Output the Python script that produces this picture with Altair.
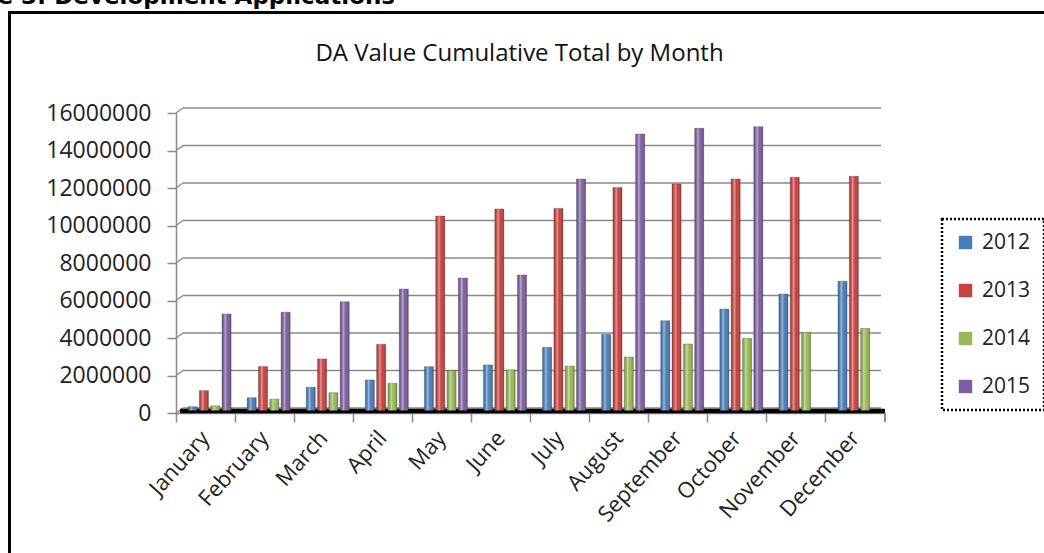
import altair as alt
import pandas as pd

months = ["January", "February", "March", "April", "May", "June", "July",
          "August", "September", "October", "November", "December"]
years = ["2012", "2013", "2014", "2015"]
v2012 = [200000, 680000, 1240000, 1630000, 2340000, 2430000, 3370000, 4060000, 4790000, 5410000, 6210000, 6900000]
v2013 = [1060000, 2340000, 2750000, 3530000, 10370000, 10750000, 10780000, 11900000, 12080000, 12350000, 12440000, 12490000]
v2014 = [250000, 600000, 950000, 1450000, 2120000, 2160000, 2370000, 2850000, 3550000, 3850000, 4170000, 4380000]
v2015 = [5150000, 5240000, 5800000, 6480000, 7070000, 7230000, 12350000, 14750000, 15050000, 15140000, 0, 0]
colors = ["#4A7EBB", "#C8423F", "#98B954", "#7D5FA0"]
y_ticks = [0, 2000000, 4000000, 6000000, 8000000, 10000000, 12000000, 14000000, 16000000]
chart_title = "DA Value Cumulative Total by Month"
caption = "Figure 3: Development Applications"

rows = []
for yr, vals in zip(years, [v2012, v2013, v2014, v2015]):
    for m, v in zip(months, vals):
        rows.append({"month": m, "year": yr, "value": v})
df = pd.DataFrame(rows)
grid_df = pd.DataFrame({"value": y_ticks})

W, H = 709, 300
FONT = "Open Sans"
GRAY = "#8a8a8a"

yscale = alt.Scale(domain=[0, 16000000], nice=False, zero=True)

x_enc = alt.X(
    "month:N", sort=months,
    scale=alt.Scale(paddingInner=0, paddingOuter=0),
    axis=alt.Axis(title=None, bandPosition=0, labelAngle=-48, labelAlign="right",
                  labelBaseline="middle", labelOffset=0, labelPadding=12,
                  labelFont=FONT, labelFontSize=22, labelColor="#222",
                  tickSize=9, tickColor=GRAY, tickWidth=1.5,
                  domainColor=GRAY, domainWidth=1.5, grid=False),
)
y_axis = alt.Axis(values=y_ticks, format="d", title=None, grid=False,
                  labelFont=FONT, labelFontSize=23, labelColor="#222", labelPadding=16,
                  tickSize=9, tickColor=GRAY, tickWidth=1.5,
                  domainColor=GRAY, domainWidth=1.5)
y_enc = alt.Y("value:Q", scale=yscale, axis=y_axis)
xoff = alt.XOffset("year:N", scale=alt.Scale(domain=years, paddingInner=0.2,
                                               paddingOuter=0.71, align=0.75))

frame_top = alt.Chart(grid_df).mark_rule(color="black", strokeWidth=3).encode(
    x=alt.value(-168), x2=alt.value(870), y=alt.value(-100.5))
frame_left = alt.Chart(grid_df).mark_rule(color="black", strokeWidth=3).encode(
    x=alt.value(-166.5), y=alt.value(-102), y2=alt.value(445))

cap = alt.Chart(pd.DataFrame({"t": [caption]})).mark_text(
    align="right", baseline="alphabetic", font="DejaVu Sans", fontWeight="bold",
    fontSize=23, color="black").encode(text="t:N", x=alt.value(219), y=alt.value(-109))

ttl = alt.Chart(pd.DataFrame({"t": [chart_title]})).mark_text(
    align="center", baseline="alphabetic", font=FONT, fontSize=24, color="#111").encode(
    text="t:N", x=alt.value(343.5), y=alt.value(-52))

grid = alt.Chart(grid_df).mark_rule(color=GRAY, strokeWidth=1.5, yOffset=-5).encode(
    y=y_enc, x=alt.value(7), x2=alt.value(705))
conn = alt.Chart(grid_df).mark_rule(color=GRAY, strokeWidth=1.5, y2Offset=-5).encode(
    y=y_enc, y2=alt.Y2("value"), x=alt.value(0), x2=alt.value(7))

floor = alt.Chart(grid_df).transform_filter("datum.value == 0").mark_rule(
    color="black", strokeWidth=4.5, yOffset=-2).encode(
    y=y_enc, x=alt.value(4), x2=alt.value(709))

bars = alt.Chart(df).transform_filter("datum.value > 0").mark_bar(
    yOffset=-2.5, y2Offset=-1, stroke="#222", strokeOpacity=0.35, strokeWidth=0.8).encode(
    x=x_enc, xOffset=xoff, y=y_enc,
    color=alt.Color("year:N", scale=alt.Scale(domain=years, range=colors),
                    legend=alt.Legend(orient="none", legendX=766, legendY=106, title=None,
                                      symbolType="square", symbolSize=180,
                                      symbolStrokeWidth=0, labelFont=FONT, labelFontSize=21,
                                      labelColor="#222", padding=13, rowPadding=26,
                                      labelOffset=6, direction="vertical")),
)

shine = alt.Gradient(
    gradient="linear", x1=0, x2=1, y1=0, y2=0,
    stops=[alt.GradientStop(color="rgba(0,0,0,0.05)", offset=0),
           alt.GradientStop(color="rgba(255,255,255,0.45)", offset=0.35),
           alt.GradientStop(color="rgba(255,255,255,0)", offset=0.6),
           alt.GradientStop(color="rgba(0,0,0,0.22)", offset=1)])
overlay = alt.Chart(df).transform_filter("datum.value > 0").mark_bar(
    fill=shine, yOffset=-2.5, y2Offset=-1).encode(x=x_enc, xOffset=xoff, y=y_enc)

end_tick = alt.Chart(grid_df).mark_rule(color=GRAY, strokeWidth=1.5).encode(
    x=alt.value(709), y=alt.value(300), y2=alt.value(309))

chart = alt.layer(frame_top, frame_left, cap, ttl, grid, conn, floor, bars, overlay, end_tick).properties(
    width=W, height=H,
    autosize=alt.AutoSizeParams(type="none"),
    padding={"left": 176, "top": 113, "right": 159, "bottom": 140},
).configure_view(stroke=None).configure_legend(
    strokeColor="black", strokeDash=[2, 2], strokeWidth=2.5)

chart.save("out.html", embed_options={"renderer": "svg", "actions": False})
